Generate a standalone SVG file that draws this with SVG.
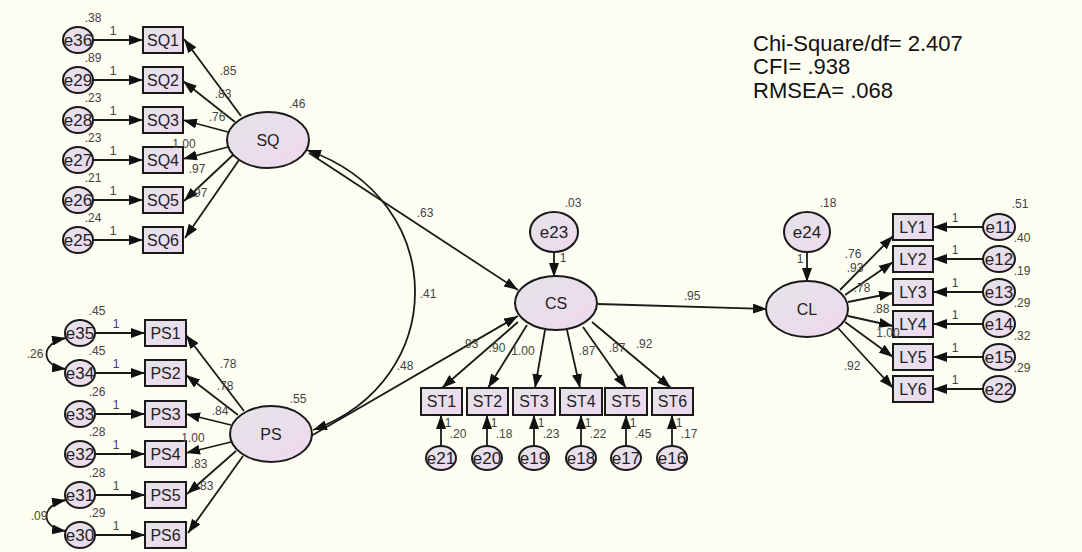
<svg xmlns="http://www.w3.org/2000/svg" width="1082" height="552" viewBox="0 0 1082 552">
<defs>
<linearGradient id="g" x1="0" y1="0" x2="1" y2="1">
<stop offset="0" stop-color="#e4e4e8"/>
<stop offset="1" stop-color="#efd8ef"/>
</linearGradient>
<marker id="a" viewBox="0 0 14 10" refX="14" refY="5" markerWidth="14" markerHeight="10" orient="auto-start-reverse" markerUnits="userSpaceOnUse">
<path d="M0,0 L14,5 L0,10 z" fill="#111"/>
</marker>
<style>
.n{fill:url(#g);stroke:#1a1a1a;stroke-width:2}
.c{stroke:#1a1a1a;stroke-width:1.8;fill:none;marker-end:url(#a)}
.d{stroke:#1a1a1a;stroke-width:1.8;fill:none;marker-end:url(#a);marker-start:url(#a)}
.t{font-family:"Liberation Sans",Arial,sans-serif;font-size:16px;fill:#222;text-anchor:middle}
.e{font-family:"Liberation Sans",Arial,sans-serif;font-size:17px;fill:#222;text-anchor:middle}
.s{font-family:"Liberation Sans",Arial,sans-serif;font-size:12px;fill:#444;text-anchor:middle}
.f{font-family:"Liberation Sans",Arial,sans-serif;font-size:22px;fill:#111}
</style>
</defs>
<rect width="1082" height="552" fill="#fdfdf1"/>

<g id="connectors">
<line class="c" x1="93" y1="40" x2="143" y2="40"/>
<line class="c" x1="93" y1="80" x2="143" y2="80"/>
<line class="c" x1="93" y1="120" x2="143" y2="120"/>
<line class="c" x1="93" y1="160" x2="143" y2="160"/>
<line class="c" x1="93" y1="200" x2="143" y2="200"/>
<line class="c" x1="93" y1="240" x2="143" y2="240"/>
<line class="c" x1="241" y1="116" x2="184" y2="39"/>
<line class="c" x1="235" y1="122" x2="183" y2="81"/>
<line class="c" x1="228" y1="132" x2="183" y2="120"/>
<line class="c" x1="228" y1="147" x2="183" y2="159"/>
<line class="c" x1="233" y1="155" x2="184" y2="201"/>
<line class="c" x1="239" y1="160" x2="185" y2="238"/>
<line class="c" x1="95" y1="333" x2="145" y2="333"/>
<line class="c" x1="95" y1="373" x2="145" y2="373"/>
<line class="c" x1="95" y1="414" x2="145" y2="414"/>
<line class="c" x1="95" y1="454" x2="145" y2="454"/>
<line class="c" x1="95" y1="495" x2="145" y2="495"/>
<line class="c" x1="95" y1="535" x2="145" y2="535"/>
<line class="c" x1="244" y1="411" x2="186" y2="335"/>
<line class="c" x1="238" y1="415" x2="186" y2="375"/>
<line class="c" x1="231" y1="425" x2="186" y2="414"/>
<line class="c" x1="231" y1="442" x2="186" y2="453"/>
<line class="c" x1="236" y1="451" x2="187" y2="494"/>
<line class="c" x1="243" y1="456" x2="188" y2="533"/>
<path class="d" d="M66,338 C40,343 40,366 66,369"/>
<path class="d" d="M66,500 C40,505 40,528 66,531"/>
<path class="d" d="M307,150 C450,200 450,380 313,430"/>
<line class="c" x1="309" y1="153" x2="518" y2="290"/>
<line class="c" x1="311" y1="436" x2="518" y2="316"/>
<line class="c" x1="554" y1="252" x2="554" y2="277"/>
<line class="c" x1="598" y1="304" x2="767" y2="309"/>
<line class="c" x1="807" y1="252" x2="807" y2="282"/>
<line class="c" x1="518" y1="322" x2="442" y2="388"/>
<line class="c" x1="527" y1="325" x2="488" y2="388"/>
<line class="c" x1="545" y1="330" x2="535" y2="388"/>
<line class="c" x1="567" y1="330" x2="580" y2="388"/>
<line class="c" x1="583" y1="327" x2="626" y2="388"/>
<line class="c" x1="592" y1="322" x2="671" y2="388"/>
<line class="c" x1="441" y1="446" x2="441" y2="415"/>
<line class="c" x1="487" y1="446" x2="487" y2="415"/>
<line class="c" x1="534" y1="446" x2="534" y2="415"/>
<line class="c" x1="581" y1="446" x2="581" y2="415"/>
<line class="c" x1="626" y1="446" x2="626" y2="415"/>
<line class="c" x1="672" y1="446" x2="672" y2="415"/>
<line class="c" x1="840" y1="290" x2="893" y2="236"/>
<line class="c" x1="845" y1="295" x2="893" y2="262"/>
<line class="c" x1="848" y1="302" x2="893" y2="293"/>
<line class="c" x1="848" y1="316" x2="893" y2="326"/>
<line class="c" x1="845" y1="322" x2="893" y2="357"/>
<line class="c" x1="838" y1="328" x2="893" y2="388"/>
<line class="c" x1="983" y1="227" x2="933" y2="227"/>
<line class="c" x1="983" y1="259" x2="933" y2="259"/>
<line class="c" x1="983" y1="292" x2="933" y2="292"/>
<line class="c" x1="983" y1="324" x2="933" y2="324"/>
<line class="c" x1="983" y1="357" x2="933" y2="357"/>
<line class="c" x1="983" y1="389" x2="933" y2="389"/>
</g>

<g id="SQ"><ellipse class="n" cx="268" cy="140" rx="41" ry="28"/><text class="t" x="268" y="146">SQ</text></g>
<g id="PS"><ellipse class="n" cx="271" cy="434" rx="41" ry="28"/><text class="t" x="271" y="440">PS</text></g>
<g id="CS"><ellipse class="n" cx="556" cy="303" rx="41" ry="27"/><text class="t" x="556" y="309">CS</text></g>
<g id="CL"><ellipse class="n" cx="807" cy="309" rx="41" ry="28"/><text class="t" x="807" y="315">CL</text></g>
<g id="e23"><ellipse class="n" cx="554" cy="232" rx="24" ry="20"/><text class="e" x="554" y="238">e23</text></g>
<g id="e24"><ellipse class="n" cx="807" cy="232" rx="23" ry="20"/><text class="e" x="807" y="238">e24</text></g>

<g id="SQ1"><rect class="n" x="143" y="27" width="40" height="26"/><text class="t" x="163" y="46">SQ1</text></g>
<g id="SQ2"><rect class="n" x="143" y="67" width="40" height="26"/><text class="t" x="163" y="86">SQ2</text></g>
<g id="SQ3"><rect class="n" x="143" y="107" width="40" height="26"/><text class="t" x="163" y="126">SQ3</text></g>
<g id="SQ4"><rect class="n" x="143" y="147" width="40" height="26"/><text class="t" x="163" y="166">SQ4</text></g>
<g id="SQ5"><rect class="n" x="143" y="187" width="40" height="26"/><text class="t" x="163" y="206">SQ5</text></g>
<g id="SQ6"><rect class="n" x="143" y="227" width="40" height="26"/><text class="t" x="163" y="246">SQ6</text></g>
<g id="e36"><ellipse class="n" cx="78" cy="40" rx="15" ry="13"/><text class="e" x="78" y="46">e36</text></g>
<g id="e29"><ellipse class="n" cx="78" cy="80" rx="15" ry="13"/><text class="e" x="78" y="86">e29</text></g>
<g id="e28"><ellipse class="n" cx="78" cy="120" rx="15" ry="13"/><text class="e" x="78" y="126">e28</text></g>
<g id="e27"><ellipse class="n" cx="78" cy="160" rx="15" ry="13"/><text class="e" x="78" y="166">e27</text></g>
<g id="e26"><ellipse class="n" cx="78" cy="200" rx="15" ry="13"/><text class="e" x="78" y="206">e26</text></g>
<g id="e25"><ellipse class="n" cx="78" cy="240" rx="15" ry="13"/><text class="e" x="78" y="246">e25</text></g>

<g id="PS1"><rect class="n" x="145" y="320" width="41" height="26"/><text class="t" x="165.5" y="339">PS1</text></g>
<g id="PS2"><rect class="n" x="145" y="360" width="41" height="26"/><text class="t" x="165.5" y="379">PS2</text></g>
<g id="PS3"><rect class="n" x="145" y="401" width="41" height="26"/><text class="t" x="165.5" y="420">PS3</text></g>
<g id="PS4"><rect class="n" x="145" y="441" width="41" height="26"/><text class="t" x="165.5" y="460">PS4</text></g>
<g id="PS5"><rect class="n" x="145" y="482" width="41" height="26"/><text class="t" x="165.5" y="501">PS5</text></g>
<g id="PS6"><rect class="n" x="145" y="522" width="41" height="26"/><text class="t" x="165.5" y="541">PS6</text></g>
<g id="e35"><ellipse class="n" cx="80" cy="333" rx="15" ry="13"/><text class="e" x="80" y="339">e35</text></g>
<g id="e34"><ellipse class="n" cx="80" cy="373" rx="15" ry="13"/><text class="e" x="80" y="379">e34</text></g>
<g id="e33"><ellipse class="n" cx="80" cy="414" rx="15" ry="13"/><text class="e" x="80" y="420">e33</text></g>
<g id="e32"><ellipse class="n" cx="80" cy="454" rx="15" ry="13"/><text class="e" x="80" y="460">e32</text></g>
<g id="e31"><ellipse class="n" cx="80" cy="495" rx="15" ry="13"/><text class="e" x="80" y="501">e31</text></g>
<g id="e30"><ellipse class="n" cx="80" cy="535" rx="15" ry="13"/><text class="e" x="80" y="541">e30</text></g>

<g id="ST1"><rect class="n" x="421" y="388" width="41" height="27"/><text class="t" x="441.5" y="407">ST1</text></g>
<g id="ST2"><rect class="n" x="467" y="388" width="41" height="27"/><text class="t" x="487.5" y="407">ST2</text></g>
<g id="ST3"><rect class="n" x="513" y="388" width="42" height="27"/><text class="t" x="534" y="407">ST3</text></g>
<g id="ST4"><rect class="n" x="560" y="388" width="42" height="27"/><text class="t" x="581" y="407">ST4</text></g>
<g id="ST5"><rect class="n" x="605" y="388" width="42" height="27"/><text class="t" x="626" y="407">ST5</text></g>
<g id="ST6"><rect class="n" x="652" y="388" width="41" height="27"/><text class="t" x="672.5" y="407">ST6</text></g>
<g id="e21"><ellipse class="n" cx="441" cy="458" rx="15" ry="12"/><text class="e" x="441" y="464">e21</text></g>
<g id="e20"><ellipse class="n" cx="487" cy="458" rx="15" ry="12"/><text class="e" x="487" y="464">e20</text></g>
<g id="e19"><ellipse class="n" cx="534" cy="458" rx="15" ry="12"/><text class="e" x="534" y="464">e19</text></g>
<g id="e18"><ellipse class="n" cx="581" cy="458" rx="15" ry="12"/><text class="e" x="581" y="464">e18</text></g>
<g id="e17"><ellipse class="n" cx="626" cy="458" rx="15" ry="12"/><text class="e" x="626" y="464">e17</text></g>
<g id="e16"><ellipse class="n" cx="672" cy="458" rx="15" ry="12"/><text class="e" x="672" y="464">e16</text></g>

<g id="LY1"><rect class="n" x="893" y="214" width="40" height="26"/><text class="t" x="913" y="233">LY1</text></g>
<g id="LY2"><rect class="n" x="893" y="246" width="40" height="26"/><text class="t" x="913" y="265">LY2</text></g>
<g id="LY3"><rect class="n" x="893" y="279" width="40" height="26"/><text class="t" x="913" y="298">LY3</text></g>
<g id="LY4"><rect class="n" x="893" y="311" width="40" height="26"/><text class="t" x="913" y="330">LY4</text></g>
<g id="LY5"><rect class="n" x="893" y="344" width="40" height="26"/><text class="t" x="913" y="363">LY5</text></g>
<g id="LY6"><rect class="n" x="893" y="376" width="40" height="26"/><text class="t" x="913" y="395">LY6</text></g>
<g id="e11"><ellipse class="n" cx="999" cy="227" rx="16" ry="13"/><text class="e" x="999" y="233">e11</text></g>
<g id="e12"><ellipse class="n" cx="999" cy="259" rx="16" ry="13"/><text class="e" x="999" y="265">e12</text></g>
<g id="e13"><ellipse class="n" cx="999" cy="292" rx="16" ry="13"/><text class="e" x="999" y="298">e13</text></g>
<g id="e14"><ellipse class="n" cx="999" cy="324" rx="16" ry="13"/><text class="e" x="999" y="330">e14</text></g>
<g id="e15"><ellipse class="n" cx="999" cy="357" rx="16" ry="13"/><text class="e" x="999" y="363">e15</text></g>
<g id="e22"><ellipse class="n" cx="999" cy="389" rx="16" ry="13"/><text class="e" x="999" y="395">e22</text></g>

<g id="labels">
<text class="s" x="93" y="22">.38</text><text class="s" x="113" y="35">1</text>
<text class="s" x="93" y="62">.89</text><text class="s" x="113" y="75">1</text>
<text class="s" x="93" y="102">.23</text><text class="s" x="113" y="115">1</text>
<text class="s" x="93" y="142">.23</text><text class="s" x="113" y="155">1</text>
<text class="s" x="93" y="182">.21</text><text class="s" x="113" y="195">1</text>
<text class="s" x="93" y="222">.24</text><text class="s" x="113" y="235">1</text>
<text class="s" x="228" y="75">.85</text>
<text class="s" x="223" y="98">.83</text>
<text class="s" x="217" y="121">.76</text>
<text class="s" x="184" y="148">1.00</text>
<text class="s" x="197" y="173">.97</text>
<text class="s" x="199" y="197">.97</text>
<text class="s" x="297" y="108">.46</text>
<text class="s" x="97" y="315">.45</text><text class="s" x="116" y="328">1</text>
<text class="s" x="97" y="355">.45</text><text class="s" x="116" y="368">1</text>
<text class="s" x="97" y="396">.26</text><text class="s" x="116" y="409">1</text>
<text class="s" x="97" y="436">.28</text><text class="s" x="116" y="449">1</text>
<text class="s" x="97" y="477">.28</text><text class="s" x="116" y="490">1</text>
<text class="s" x="97" y="517">.29</text><text class="s" x="116" y="530">1</text>
<text class="s" x="35" y="358">.26</text>
<text class="s" x="39" y="520">.09</text>
<text class="s" x="228" y="368">.78</text>
<text class="s" x="225" y="390">.78</text>
<text class="s" x="220" y="415">.84</text>
<text class="s" x="193" y="442">1.00</text>
<text class="s" x="199" y="468">.83</text>
<text class="s" x="205" y="490">.83</text>
<text class="s" x="298" y="403">.55</text>
<text class="s" x="425" y="217">.63</text>
<text class="s" x="428" y="298">.41</text>
<text class="s" x="405" y="370">.48</text>
<text class="s" x="692" y="300">.95</text>
<text class="s" x="573" y="207">.03</text>
<text class="s" x="563" y="262">1</text>
<text class="s" x="828" y="207">.18</text>
<text class="s" x="800" y="263">1</text>
<text class="s" x="470" y="348">.93</text>
<text class="s" x="497" y="352">.90</text>
<text class="s" x="523" y="355">1.00</text>
<text class="s" x="587" y="355">.87</text>
<text class="s" x="617" y="352">.87</text>
<text class="s" x="644" y="348">.92</text>
<text class="s" x="448" y="427">1</text><text class="s" x="458" y="438">.20</text>
<text class="s" x="494" y="427">1</text><text class="s" x="504" y="438">.18</text>
<text class="s" x="541" y="427">1</text><text class="s" x="551" y="438">.23</text>
<text class="s" x="588" y="427">1</text><text class="s" x="598" y="438">.22</text>
<text class="s" x="633" y="427">1</text><text class="s" x="643" y="438">.45</text>
<text class="s" x="679" y="427">1</text><text class="s" x="689" y="438">.17</text>
<text class="s" x="853" y="258">.76</text>
<text class="s" x="855" y="272">.93</text>
<text class="s" x="862" y="292">.78</text>
<text class="s" x="881" y="313">.88</text>
<text class="s" x="888" y="337">1.00</text>
<text class="s" x="852" y="370">.92</text>
<text class="s" x="955" y="222">1</text><text class="s" x="1020" y="208">.51</text>
<text class="s" x="955" y="254">1</text><text class="s" x="1022" y="242">.40</text>
<text class="s" x="955" y="287">1</text><text class="s" x="1022" y="275">.19</text>
<text class="s" x="955" y="319">1</text><text class="s" x="1022" y="307">.29</text>
<text class="s" x="955" y="352">1</text><text class="s" x="1022" y="340">.32</text>
<text class="s" x="955" y="384">1</text><text class="s" x="1022" y="372">.29</text>
<text class="f" x="753" y="51">Chi-Square/df= 2.407</text>
<text class="f" x="753" y="74">CFI= .938</text>
<text class="f" x="753" y="98">RMSEA= .068</text>
</g>
</svg>
